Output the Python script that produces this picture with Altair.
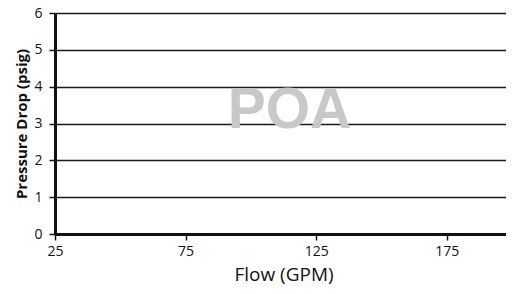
import altair as alt
import pandas as pd

x_ticks = [25, 75, 125, 175]
y_ticks = [0, 1, 2, 3, 4, 5, 6]
x_domain = [25, 200]
y_domain = [0, 6]
label_text = ["POA"]
label_x = [114.8]
label_y = [2.88]

df = pd.DataFrame({"x": label_x, "y": label_y, "t": label_text})

x_enc = alt.X(
    "x:Q",
    scale=alt.Scale(domain=x_domain, nice=False, zero=False),
    axis=alt.Axis(values=x_ticks, title="Flow (GPM)", grid=False,
                  labelFontSize=14, titleFontSize=19, titleFontWeight="normal",
                  titlePadding=7, labelPadding=4, tickSize=6, labelFlush=False),
)
y_enc = alt.Y(
    "y:Q",
    scale=alt.Scale(domain=y_domain, nice=False),
    axis=alt.Axis(values=y_ticks, title="Pressure Drop (psig)", grid=True,
                  labelFontSize=14, titleFontSize=15, titleFontWeight="bold",
                  titlePadding=4, labelPadding=7, tickSize=6, labelFlush=False),
)

chart = (
    alt.Chart(df)
    .mark_text(font="Liberation Sans", fontWeight="bold", fontSize=57,
               color="#c8c8c9", baseline="alphabetic", align="center")
    .encode(x=x_enc, y=y_enc, text="t:N")
    .properties(width=457, height=221,
                padding={"left": 47, "top": 5, "right": -6, "bottom": 52},
                autosize=alt.AutoSizeParams(type="none"))
    .configure_view(stroke=None)
    .configure_axis(
        domainColor="#111111", domainWidth=3, tickColor="#111111", tickWidth=1.5,
        gridColor="#1a1a1a", gridWidth=1.4, gridOpacity=1,
        labelColor="#111111", titleColor="#111111",
        labelFont="Open Sans", titleFont="Open Sans",
    )
)

chart.save("out.html", embed_options={"renderer": "svg", "actions": False})
